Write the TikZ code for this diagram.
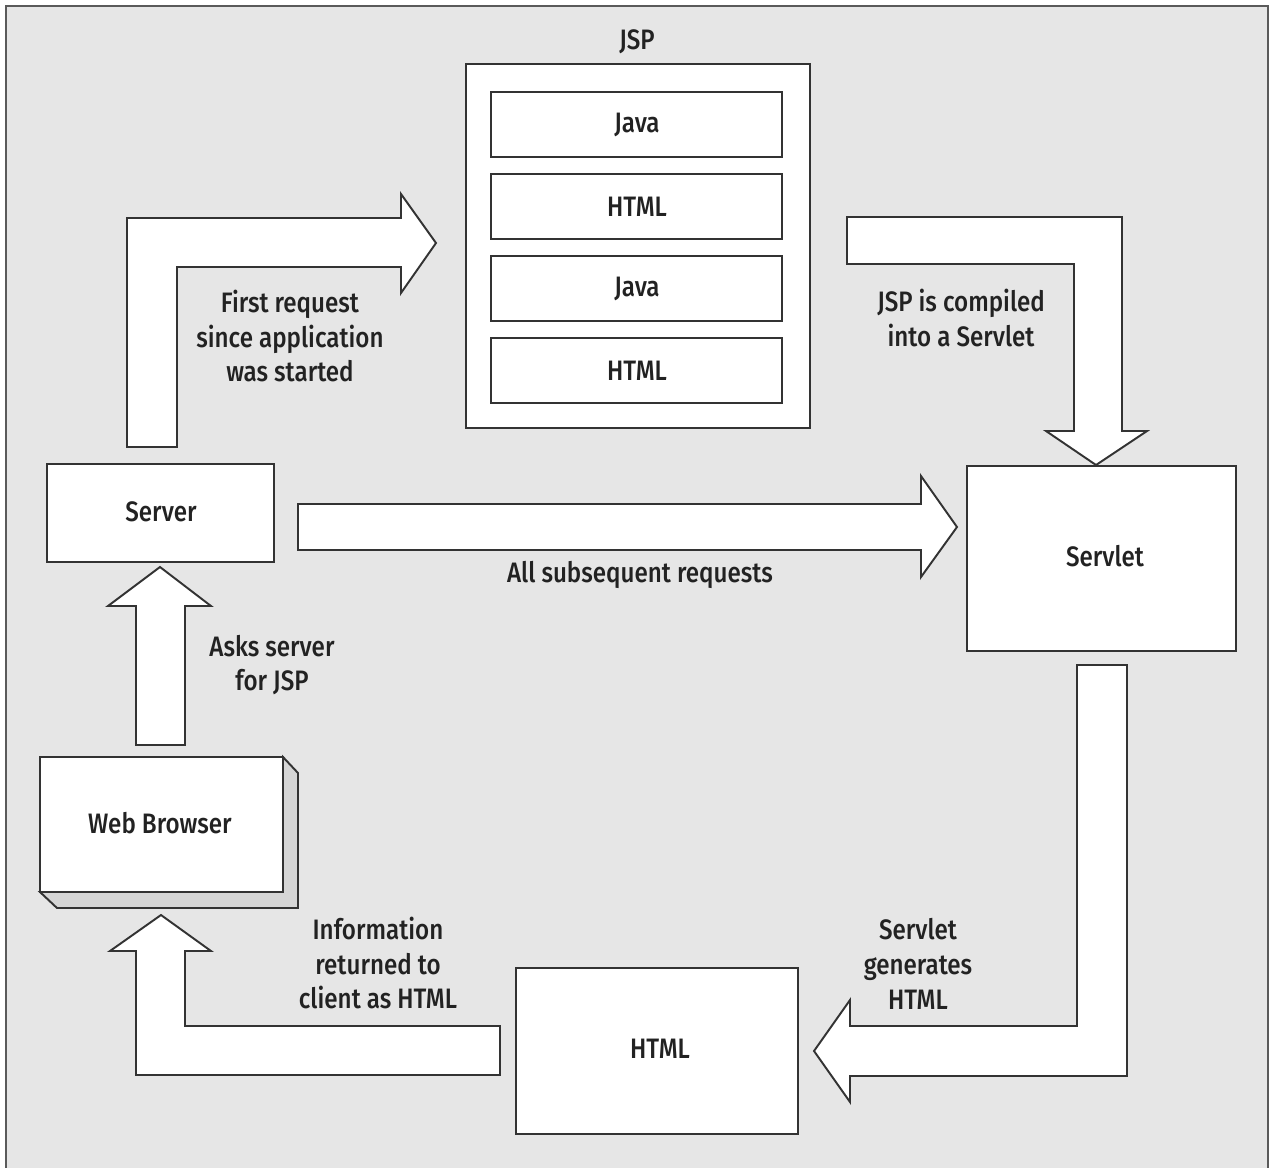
\documentclass[tikz,border=0pt]{standalone}
\usepackage{fontspec}
\setmainfont{Fira Sans Medium}[FakeStretch=0.86]
\begin{document}
\begin{tikzpicture}[x=0.02cm,y=-0.02cm,
  box/.style={draw=linec,fill=white,line width=1.1pt},
  blk/.style={draw=linec,fill=white,line width=1.1pt,line join=miter},
  lbl/.style={font=\fontsize{16}{19.8}\selectfont,text=textc,align=center,inner sep=0pt},
  txt/.style={font=\fontsize{16}{19.8}\selectfont,text=textc}]
\definecolor{bgc}{HTML}{E6E6E6}
\definecolor{linec}{HTML}{333333}
\definecolor{framec}{HTML}{5A5A5A}
\definecolor{depthc}{HTML}{D6D6D6}
\definecolor{textc}{HTML}{222222}
\useasboundingbox (0,0) rectangle (1270,1167);
\clip (0,0) rectangle (1270,1167);
% outer panel
\draw[fill=bgc,draw=framec,line width=1.6pt] (6,6) rectangle (1268,1190);

% JSP page with its four sections
\node[txt] (jsptitle) at (637,42) {JSP};
\draw[box] (466,64) rectangle (810,428);
\foreach \yt/\yb/\t [count=\i] in {92/157/Java,174/239/HTML,256/321/Java,338/403/HTML}{
  \draw[box] (491,\yt) rectangle (782,\yb);
  \node[txt] (sec\i) at (637,{(\yt+\yb)/2}) {\t};
}

% Server
\draw[box] (47,464) rectangle (274,562);
\node[txt] (server) at (161,512) {Server};

% Servlet
\draw[box] (967,466) rectangle (1236,651);
\node[txt] (servlet) at (1105,556) {Servlet};

% Web Browser, drawn as a raised block
\draw[fill=depthc,draw=linec,line width=1.1pt,line join=miter]
  (283,757) -- (298,773) -- (298,908) -- (57,908) -- (40,892) -- (283,892) -- cycle;
\draw[box] (40,757) rectangle (283,892);
\node[txt] (browser) at (160,823) {Web Browser};

% HTML output
\draw[box] (516,968) rectangle (798,1134);
\node[txt] (html) at (660,1049) {HTML};

% Server -> JSP (first request)
\draw[blk] (127,447) -- (127,218) -- (401,218) -- (401,194) -- (436,243)
  -- (401,293) -- (401,267) -- (177,267) -- (177,447) -- cycle;
\node[lbl] (l1) at (290,336) {First request\\since application\\was started};

% JSP -> Servlet (compilation)
\draw[blk] (847,217) -- (1122,217) -- (1122,431) -- (1147,431) -- (1096,465)
  -- (1046,431) -- (1074,431) -- (1074,264) -- (847,264) -- cycle;
\node[lbl] (l2) at (961,318) {JSP is compiled\\into a Servlet};

% Server -> Servlet (subsequent requests)
\draw[blk] (298,504) -- (921,504) -- (921,476) -- (957,527) -- (921,577)
  -- (921,550) -- (298,550) -- cycle;
\node[lbl] (l3) at (640,575) {All subsequent requests};

% Web Browser -> Server
\draw[blk] (136,745) -- (136,606) -- (108,606) -- (160,567) -- (211,606)
  -- (185,606) -- (185,745) -- cycle;
\node[lbl] (l4) at (272,665) {Asks server\\for JSP};

% Servlet -> HTML
\draw[blk] (1077,665) -- (1127,665) -- (1127,1076) -- (850,1076) -- (850,1102)
  -- (814,1051) -- (850,1000) -- (850,1026) -- (1077,1026) -- cycle;
\node[lbl] (l5) at (918,964) {Servlet\\generates\\HTML};

% HTML -> Web Browser
\draw[blk] (500,1026) -- (500,1075) -- (136,1075) -- (136,951) -- (110,951)
  -- (161,915) -- (211,951) -- (185,951) -- (185,1026) -- cycle;
\node[lbl] (l6) at (378,963) {Information\\returned to\\client as HTML};
\end{tikzpicture}
\end{document}
